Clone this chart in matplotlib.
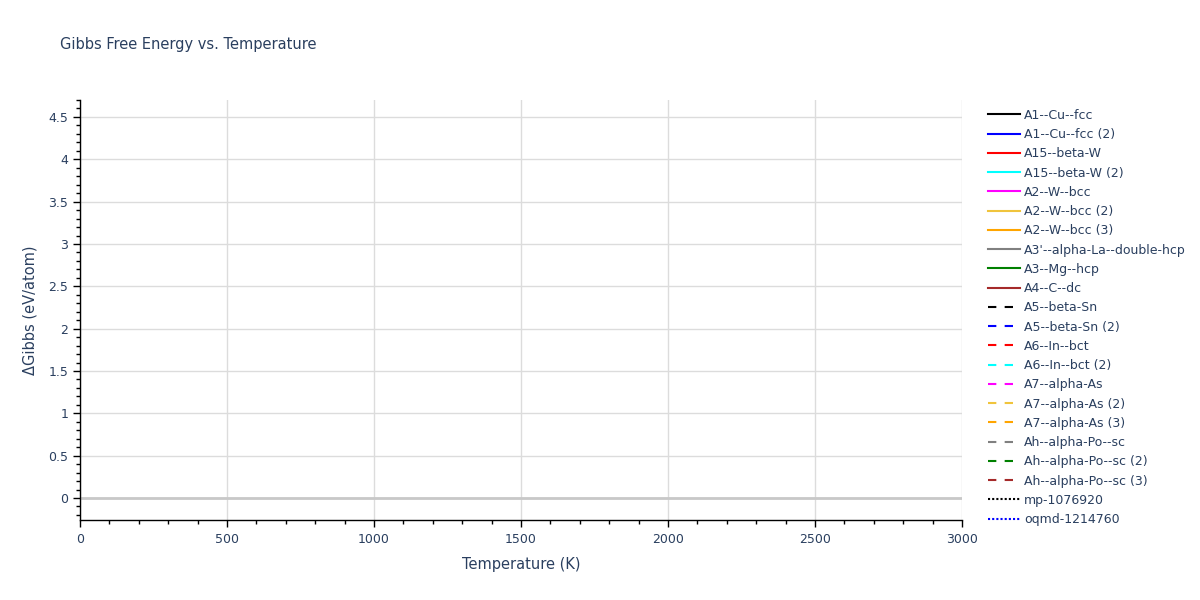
import matplotlib
matplotlib.use("Agg")
import matplotlib.pyplot as plt
from matplotlib.ticker import MultipleLocator

# data: the reference plot shows no visible curves, only legend entries
temperature = []
series_names = [
    "A1--Cu--fcc", "A1--Cu--fcc (2)", "A15--beta-W", "A15--beta-W (2)",
    "A2--W--bcc", "A2--W--bcc (2)", "A2--W--bcc (3)",
    "A3'--alpha-La--double-hcp", "A3--Mg--hcp", "A4--C--dc",
    "A5--beta-Sn", "A5--beta-Sn (2)", "A6--In--bct", "A6--In--bct (2)",
    "A7--alpha-As", "A7--alpha-As (2)", "A7--alpha-As (3)",
    "Ah--alpha-Po--sc", "Ah--alpha-Po--sc (2)", "Ah--alpha-Po--sc (3)",
    "mp-1076920", "oqmd-1214760",
]
series_values = {name: [] for name in series_names}

palette = ["black", "blue", "red", "cyan", "magenta", "#f0c43c", "orange",
           "gray", "green", "brown"]
text_color = "#2a3f5f"

plt.rcParams['font.family'] = ['DejaVu Sans']

fig = plt.figure(figsize=(12, 6), dpi=100)
ax = fig.add_axes([0.0667, 0.1333, 0.735, 0.7])

for i, name in enumerate(series_names):
    if i < 10:
        style = "-"
        color = palette[i]
    elif i < 20:
        style = (0, (4, 4))
        color = palette[i - 10]
    else:
        style = (0, (1, 1))
        color = palette[i - 20]
    ax.plot(temperature, series_values[name], linestyle=style, color=color,
            linewidth=1.5, label=name)

ax.set_xlim(0, 3000)
ax.set_ylim(-0.26, 4.7)

# axes look
ax.xaxis.set_major_locator(MultipleLocator(500))
ax.xaxis.set_minor_locator(MultipleLocator(100))
ax.yaxis.set_major_locator(MultipleLocator(0.5))
ax.yaxis.set_minor_locator(MultipleLocator(0.1))
ax.yaxis.set_major_formatter(plt.FuncFormatter(lambda v, p: ("%g" % v)))
ax.grid(True, which="major", color="#dcdcdc", linewidth=1)
ax.axhline(0, color="#c8c8c8", linewidth=2, zorder=1)
ax.set_axisbelow(True)
for side in ["top", "right"]:
    ax.spines[side].set_visible(False)
for side in ["left", "bottom"]:
    ax.spines[side].set_color("black")
    ax.spines[side].set_linewidth(1)
ax.tick_params(which="major", length=5, width=1, colors="black",
               labelcolor=text_color, labelsize=9)
ax.tick_params(which="minor", length=3, width=1, colors="black")
ax.tick_params(axis="x", pad=4)

ax.set_xlabel("Temperature (K)", color=text_color, fontsize=10.5, labelpad=8)
ax.set_ylabel("\u0394Gibbs (eV/atom)", color=text_color, fontsize=10.5, labelpad=8)

fig.text(0.05, 0.925, "Gibbs Free Energy vs. Temperature", color=text_color,
         fontsize=10.5, va="center")

leg = ax.legend(loc="upper left", bbox_to_anchor=(1.02, 1.0), frameon=False,
                fontsize=9, handlelength=2.5, labelspacing=0.5,
                handletextpad=0.35, borderaxespad=0.3)
for t in leg.get_texts():
    t.set_color(text_color)

fig.savefig("out.png", dpi=100)
